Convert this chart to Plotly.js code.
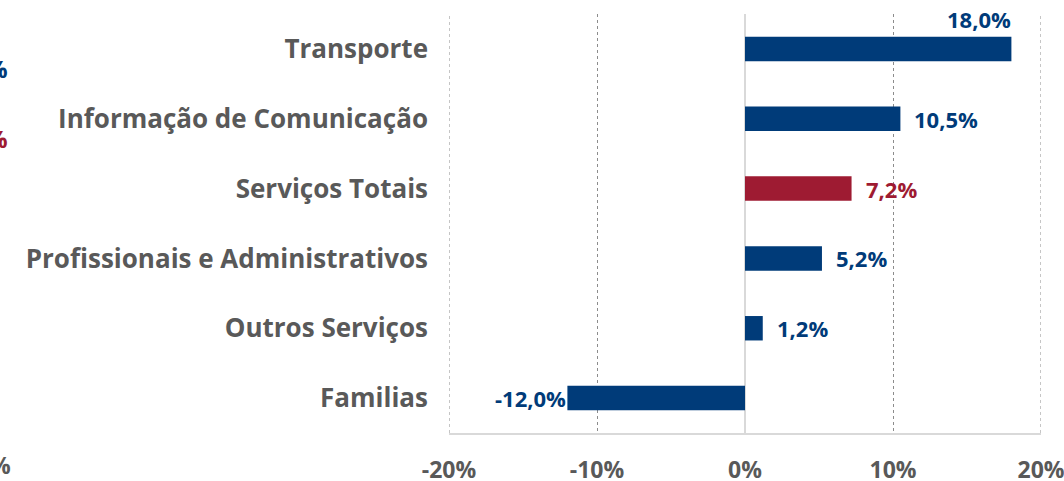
<!DOCTYPE html>
<html>
<head>
<meta charset="utf-8">
<script src="https://cdn.plot.ly/plotly-3.0.1.min.js"></script>
<style>html,body{margin:0;padding:0;background:#fff;}#chart{width:1064px;height:481px;}</style>
</head>
<body>
<div id="chart"></div>
<script>
const categories = ["Transporte", "Informação de Comunicação", "Serviços Totais", "Profissionais e Administrativos", "Outros Serviços", "Familias"];
const values = [18.0, 10.5, 7.2, 5.2, 1.2, -12.0];
const labels = ["18,0%", "10,5%", "7,2%", "5,2%", "1,2%", "-12,0%"];
const highlight = "Serviços Totais";
const tickVals = [-20, -10, 0, 10, 20];
const tickText = ["-20%", "-10%", "0%", "10%", "20%"];

const BLUE = "#003B79";
const RED = "#9E1B32";
const colors = categories.map(c => c === highlight ? RED : BLUE);
const FONT = "'Open Sans', sans-serif";

const annotations = categories.map((c, i) => {
  const v = values[i];
  const a = {
    x: v, y: c, xref: "x", yref: "y", text: "<b>" + labels[i] + "</b>", showarrow: false,
    font: {family: FONT, size: 22, color: colors[i]}
  };
  if (v >= 15) { a.xanchor = "right"; a.yanchor = "bottom"; a.yshift = 13; a.xshift = 2; }
  else if (v >= 0) { a.xanchor = "left"; a.xshift = 12; }
  else { a.xanchor = "right"; a.xshift = 1; }
  return a;
});
// fragments of neighbouring chart cut at the left edge
annotations.push({xref: "paper", yref: "paper", x: -0.742, y: 0.87, xanchor: "right", yanchor: "middle", text: "<b>%</b>", showarrow: false, font: {family: FONT, size: 24, color: BLUE}});
annotations.push({xref: "paper", yref: "paper", x: -0.742, y: 0.703, xanchor: "right", yanchor: "middle", text: "<b>%</b>", showarrow: false, font: {family: FONT, size: 24, color: RED}});
annotations.push({xref: "paper", yref: "paper", x: -0.736, y: -0.077, xanchor: "right", yanchor: "middle", text: "<b>%</b>", showarrow: false, font: {family: FONT, size: 23, color: "#595959"}});

const shapes = [-20, 20].map(v => ({
  type: "line", xref: "x", yref: "paper", x0: v, x1: v, y0: 0, y1: 1,
  line: {color: "#8c8c8c", width: 1, dash: "dot"}, layer: "below"
}));

Plotly.newPlot("chart", [{
  type: "bar", orientation: "h", x: values, y: categories,
  marker: {color: colors}, width: 0.35, hoverinfo: "none"
}], {
  width: 1064, height: 481,
  margin: {l: 449, r: 23, t: 14, b: 48},
  paper_bgcolor: "#fff", plot_bgcolor: "#fff",
  showlegend: false,
  xaxis: {
    range: [-20, 20], tickvals: tickVals, ticktext: tickText, automargin: false,
    ticklabeloverflow: "allow",
    showgrid: true, gridcolor: "#8c8c8c", griddash: "dot", gridwidth: 1,
    zeroline: true, zerolinecolor: "#d9d9d9", zerolinewidth: 2,
    showline: true, linecolor: "#d9d9d9", linewidth: 2,
    ticks: "", ticklabelstandoff: 15,
    tickfont: {family: FONT, size: 23, color: "#595959", weight: "bold"}
  },
  yaxis: {
    type: "category", categoryorder: "array", categoryarray: categories.slice().reverse(),
    range: [-0.5, 5.5], automargin: false,
    showgrid: false, zeroline: false, showline: false, ticks: "", ticklabelstandoff: 20,
    tickfont: {family: FONT, size: 26, color: "#595959", weight: "bold"}
  },
  shapes: shapes,
  annotations: annotations
}, {displayModeBar: false, staticPlot: true});
</script>
</body>
</html>
